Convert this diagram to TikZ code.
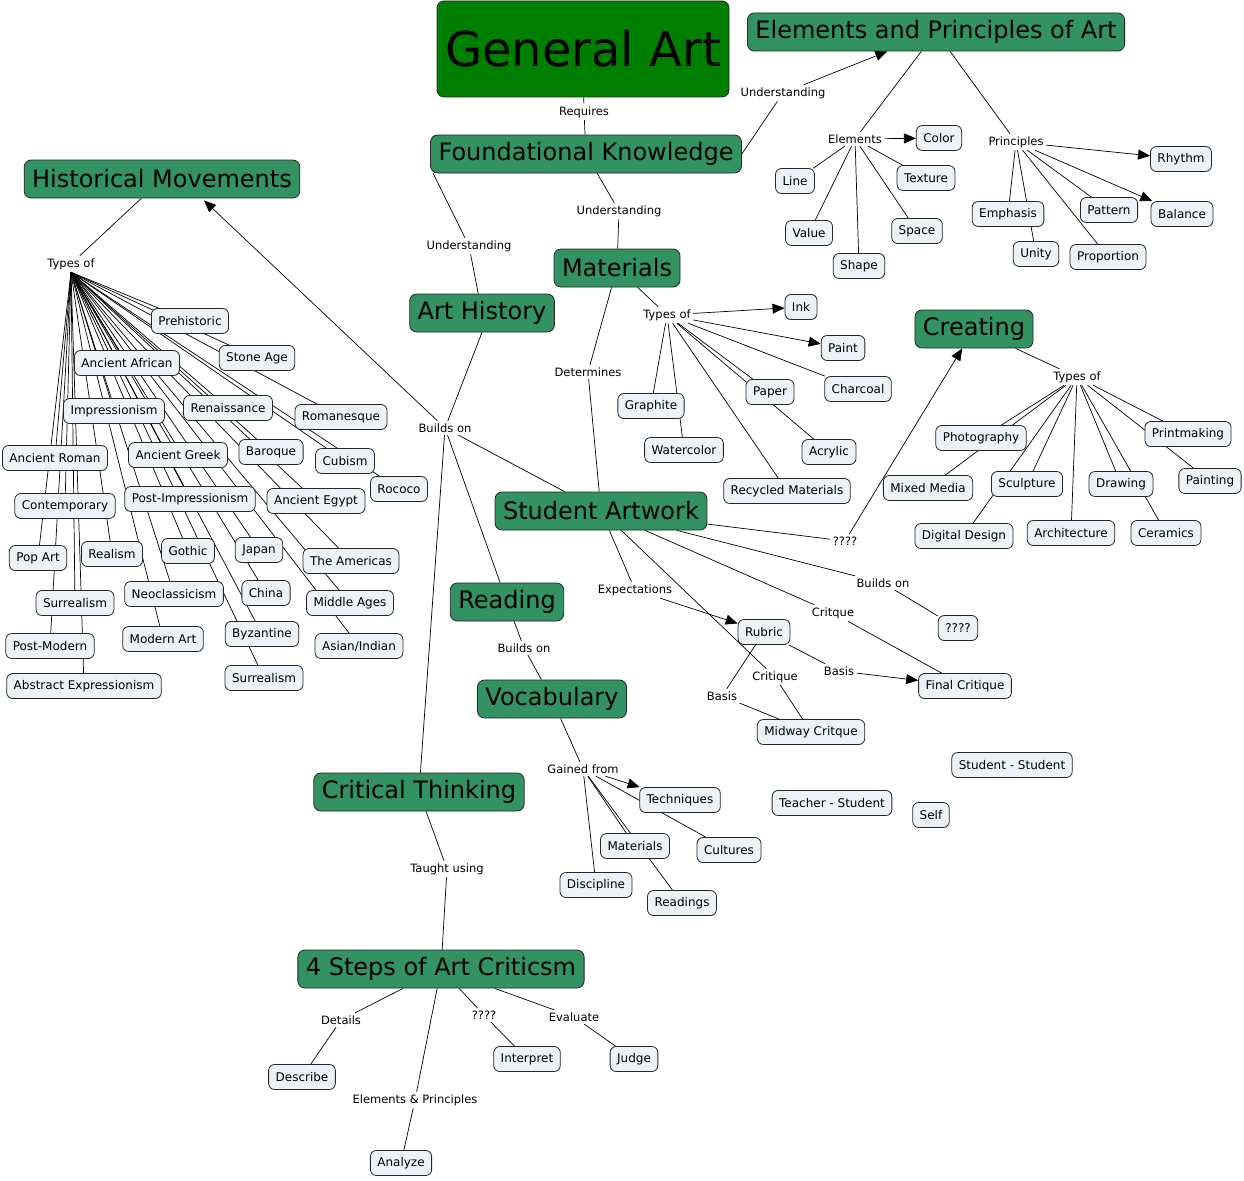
\documentclass[tikz,border=0pt]{standalone}
\usepackage{fontspec}
\setmainfont{DejaVu Sans}
\usetikzlibrary{arrows.meta,backgrounds}

\definecolor{topicgreen}{RGB}{50,146,97}
\definecolor{rootgreen}{RGB}{0,126,0}
\definecolor{leafblue}{RGB}{236,243,246}

\tikzset{
  topic/.style={draw=black!85, fill=topicgreen, rounded corners=7pt, line width=0.8pt,
    inner xsep=8pt, minimum height=38pt, font=\fontsize{24}{28}\selectfont},
  leaf/.style={draw=black!85, fill=leafblue, rounded corners=6pt, line width=0.8pt,
    inner xsep=7pt, minimum height=25pt, font=\fontsize{12}{14}\selectfont},
  phrase/.style={inner sep=2.5pt, font=\fontsize{11.5}{13}\selectfont},
  conn/.style={line width=0.7pt},
  arr/.style={conn, -{Triangle[length=12pt,width=10pt]}}
}

\begin{document}
\begin{tikzpicture}[x=1pt,y=-1pt]
  \useasboundingbox (0,0) rectangle (1244,1180);

  \node[topic, fill=rootgreen, minimum width=292pt, minimum height=96pt,
        font=\fontsize{48}{56}\selectfont] (genart) at (583,49) {General Art};
  \node[topic] (elemprin) at (936,32) {Elements and Principles of Art};
  \node[topic] (found) at (586,154) {Foundational Knowledge};
  \node[topic] (histmov) at (162,179) {Historical Movements};
  \node[topic] (materials) at (617,268) {Materials};
  \node[topic] (arthist) at (482,313) {Art History};
  \node[topic] (creating) at (974,329) {Creating};
  \node[topic] (studart) at (601,511) {Student Artwork};
  \node[topic] (reading) at (507,602) {Reading};
  \node[topic] (vocab) at (552,699) {Vocabulary};
  \node[topic] (critthink) at (419,792) {Critical Thinking};
  \node[topic] (steps) at (441,969) {4 Steps of Art Criticsm};

  \node[phrase] (requires) at (584,112) {Requires};
  \node[phrase] (undelem) at (783,93) {Understanding};
  \node[phrase] (undhist) at (469,246) {Understanding};
  \node[phrase] (undmat) at (619,211) {Understanding};
  \node[phrase] (histtypes) at (71,264) {Types of};
  \node[phrase] (elements) at (855,139) {Elements};
  \node[phrase] (principles) at (1016,142) {Principles};
  \node[phrase] (mattypes) at (667,315) {Types of};
  \node[phrase] (determines) at (588,372) {Determines};
  \node[phrase] (buildson) at (445,428) {Builds on};
  \node[phrase] (cretypes) at (1077,377) {Types of};
  \node[phrase] (unknown) at (845,541) {????};
  \node[phrase] (buildsonb) at (883,583) {Builds on};
  \node[phrase] (critq) at (833,613) {Critque};
  \node[phrase] (expect) at (635,590) {Expectations};
  \node[phrase] (critique) at (775,677) {Critique};
  \node[phrase] (basisa) at (839,671) {Basis};
  \node[phrase] (basisb) at (722,696) {Basis};
  \node[phrase] (buildsonc) at (524,648) {Builds on};
  \node[phrase] (gained) at (583,769) {Gained from};
  \node[phrase] (taught) at (447,869) {Taught using};
  \node[phrase] (details) at (341,1020) {Details};
  \node[phrase] (elprin) at (415,1100) {Elements \& Principles};
  \node[phrase] (unknownb) at (484,1015) {????};
  \node[phrase] (evaluate) at (574,1017) {Evaluate};

  \node[leaf] (prehist) at (190,321) {Prehistoric};
  \node[leaf] (stoneage) at (257,358) {Stone Age};
  \node[leaf] (anafrican) at (127,363) {Ancient African};
  \node[leaf] (impress) at (114,411) {Impressionism};
  \node[leaf] (renaiss) at (228,408) {Renaissance};
  \node[leaf] (romanesq) at (341,417) {Romanesque};
  \node[leaf] (anroman) at (55,458) {Ancient Roman};
  \node[leaf] (angreek) at (178,455) {Ancient Greek};
  \node[leaf] (baroque) at (271,452) {Baroque};
  \node[leaf] (cubism) at (345,461) {Cubism};
  \node[leaf] (rococo) at (399,489) {Rococo};
  \node[leaf] (contemp) at (65,506) {Contemporary};
  \node[leaf] (postimp) at (190,499) {Post-Impressionism};
  \node[leaf] (anegypt) at (316,501) {Ancient Egypt};
  \node[leaf] (popart) at (38,558) {Pop Art};
  \node[leaf] (realism) at (112,554) {Realism};
  \node[leaf] (gothic) at (188,551) {Gothic};
  \node[leaf] (japan) at (259,550) {Japan};
  \node[leaf] (americas) at (351,561) {The Americas};
  \node[leaf] (surreal) at (75,603) {Surrealism};
  \node[leaf] (neoclass) at (174,594) {Neoclassicism};
  \node[leaf] (china) at (266,593) {China};
  \node[leaf] (midages) at (350,603) {Middle Ages};
  \node[leaf] (postmod) at (50,646) {Post-Modern};
  \node[leaf] (modart) at (163,639) {Modern Art};
  \node[leaf] (byzant) at (262,634) {Byzantine};
  \node[leaf] (asian) at (359,646) {Asian/Indian};
  \node[leaf] (surrealb) at (264,678) {Surrealism};
  \node[leaf] (abstrex) at (84,686) {Abstract Expressionism};

  \node[leaf] (color) at (939,138) {Color};
  \node[leaf] (line) at (795,181) {Line};
  \node[leaf] (texture) at (926,178) {Texture};
  \node[leaf] (value) at (809,233) {Value};
  \node[leaf] (space) at (917,231) {Space};
  \node[leaf] (shape) at (859,266) {Shape};
  \node[leaf] (rhythm) at (1181,159) {Rhythm};
  \node[leaf] (emphasis) at (1008,214) {Emphasis};
  \node[leaf] (pattern) at (1109,210) {Pattern};
  \node[leaf] (balance) at (1182,214) {Balance};
  \node[leaf] (unity) at (1036,254) {Unity};
  \node[leaf] (proportion) at (1108,257) {Proportion};

  \node[leaf] (ink) at (801,307) {Ink};
  \node[leaf] (paint) at (843,348) {Paint};
  \node[leaf] (charcoal) at (858,389) {Charcoal};
  \node[leaf] (graphite) at (651,406) {Graphite};
  \node[leaf] (paper) at (770,392) {Paper};
  \node[leaf] (watercolor) at (684,450) {Watercolor};
  \node[leaf] (acrylic) at (829,452) {Acrylic};
  \node[leaf] (recycled) at (787,491) {Recycled Materials};

  \node[leaf] (photo) at (981,438) {Photography};
  \node[leaf] (printmk) at (1188,434) {Printmaking};
  \node[leaf] (mixed) at (928,488) {Mixed Media};
  \node[leaf] (sculpt) at (1027,484) {Sculpture};
  \node[leaf] (drawing) at (1121,484) {Drawing};
  \node[leaf] (painting) at (1210,481) {Painting};
  \node[leaf] (digital) at (964,536) {Digital Design};
  \node[leaf] (archit) at (1071,533) {Architecture};
  \node[leaf] (ceramics) at (1166,533) {Ceramics};

  \node[leaf] (unkbox) at (958,628) {????};
  \node[leaf] (final) at (965,686) {Final Critique};
  \node[leaf] (rubric) at (764,632) {Rubric};
  \node[leaf] (midway) at (811,732) {Midway Critque};

  \node[leaf] (techniq) at (680,800) {Techniques};
  \node[leaf] (matls) at (635,846) {Materials};
  \node[leaf] (cultures) at (729,850) {Cultures};
  \node[leaf] (discipl) at (596,885) {Discipline};
  \node[leaf] (readings) at (682,903) {Readings};

  \node[leaf] (describe) at (302,1077) {Describe};
  \node[leaf] (analyze) at (401,1163) {Analyze};
  \node[leaf] (interpret) at (527,1059) {Interpret};
  \node[leaf] (judge) at (634,1059) {Judge};

  \node[leaf] (stustu) at (1012,765) {Student - Student};
  \node[leaf] (teastu) at (832,803) {Teacher - Student};
  \node[leaf] (self) at (931,815) {Self};

  \begin{scope}[on background layer]
    \draw[conn] (genart) -- (requires);
    \draw[conn] (requires) -- (found);
    \draw[conn] (found.east) -- (undelem);
    \draw[arr] (undelem) -- (elemprin);
    \draw[conn] ([xshift=3pt]found.south west) -- (undhist);
    \draw[conn] (undhist) -- (arthist);
    \draw[conn] (found) -- (undmat);
    \draw[conn] (undmat) -- (materials);

    \draw[conn] (elemprin) -- (elements);
    \draw[conn] (elemprin) -- (principles);
    \draw[arr] (elements) -- (color);
    \foreach \m in {line,value,shape,space,texture}
      \draw[conn] (elements) -- (\m);
    \draw[arr] (principles) -- (rhythm);
    \draw[arr] (principles) -- (balance);
    \foreach \m in {emphasis,unity,pattern,proportion}
      \draw[conn] (principles) -- (\m);

    \draw[conn] (histmov) -- (histtypes);
    \foreach \m in {prehist,stoneage,anafrican,impress,renaiss,romanesq,anroman,
        angreek,baroque,cubism,rococo,contemp,postimp,anegypt,popart,realism,
        gothic,japan,americas,surreal,neoclass,china,midages,postmod,modart,
        byzant,asian,surrealb,abstrex}
      \draw[conn] (histtypes.south) -- (\m);

    \draw[conn] (materials) -- (mattypes);
    \draw[arr] (mattypes) -- (ink);
    \draw[arr] (mattypes) -- (paint);
    \foreach \m in {charcoal,graphite,paper,watercolor,acrylic,recycled}
      \draw[conn] (mattypes) -- (\m);
    \draw[conn] (materials) -- (determines);
    \draw[conn] (determines) -- (studart);

    \draw[conn] (arthist.south) -- (buildson);
    \draw[arr] (buildson) -- ([xshift=42pt,yshift=-2pt]histmov.south);
    \draw[conn] (buildson) -- (studart);
    \draw[conn] (buildson) -- (reading);
    \draw[conn] (buildson) -- (critthink);

    \draw[conn] (creating) -- (cretypes);
    \foreach \m in {photo,mixed,sculpt,digital,archit,drawing,ceramics,printmk,painting}
      \draw[conn] (cretypes) -- (\m);

    \draw[conn] (studart) -- (unknown);
    \draw[arr] (unknown) -- (creating);
    \draw[conn] (studart) -- (buildsonb);
    \draw[conn] (buildsonb) -- (unkbox);
    \draw[conn] (studart) -- (critq);
    \draw[conn] (critq) -- (final);
    \draw[conn] (studart) -- (expect);
    \draw[arr] (expect) -- (rubric);
    \draw[conn] (studart) -- (critique);
    \draw[conn] (critique) -- (midway);
    \draw[conn] (rubric) -- (basisa);
    \draw[arr] (basisa) -- (final);
    \draw[conn] (rubric) -- (basisb);
    \draw[conn] (basisb) -- (midway);

    \draw[conn] (reading) -- (buildsonc);
    \draw[conn] (buildsonc) -- (vocab);
    \draw[conn] (vocab) -- (gained);
    \draw[arr] (gained) -- (techniq);
    \foreach \m in {cultures,matls,readings,discipl}
      \draw[conn] (gained) -- (\m);

    \draw[conn] (critthink) -- (taught);
    \draw[conn] (taught) -- (steps);
    \draw[conn] (steps) -- (details);
    \draw[conn] (details) -- (describe);
    \draw[conn] (steps) -- (elprin);
    \draw[conn] (elprin) -- (analyze);
    \draw[conn] (steps) -- (unknownb);
    \draw[conn] (unknownb) -- (interpret);
    \draw[conn] (steps) -- (evaluate);
    \draw[conn] (evaluate) -- (judge);
  \end{scope}
\end{tikzpicture}
\end{document}
